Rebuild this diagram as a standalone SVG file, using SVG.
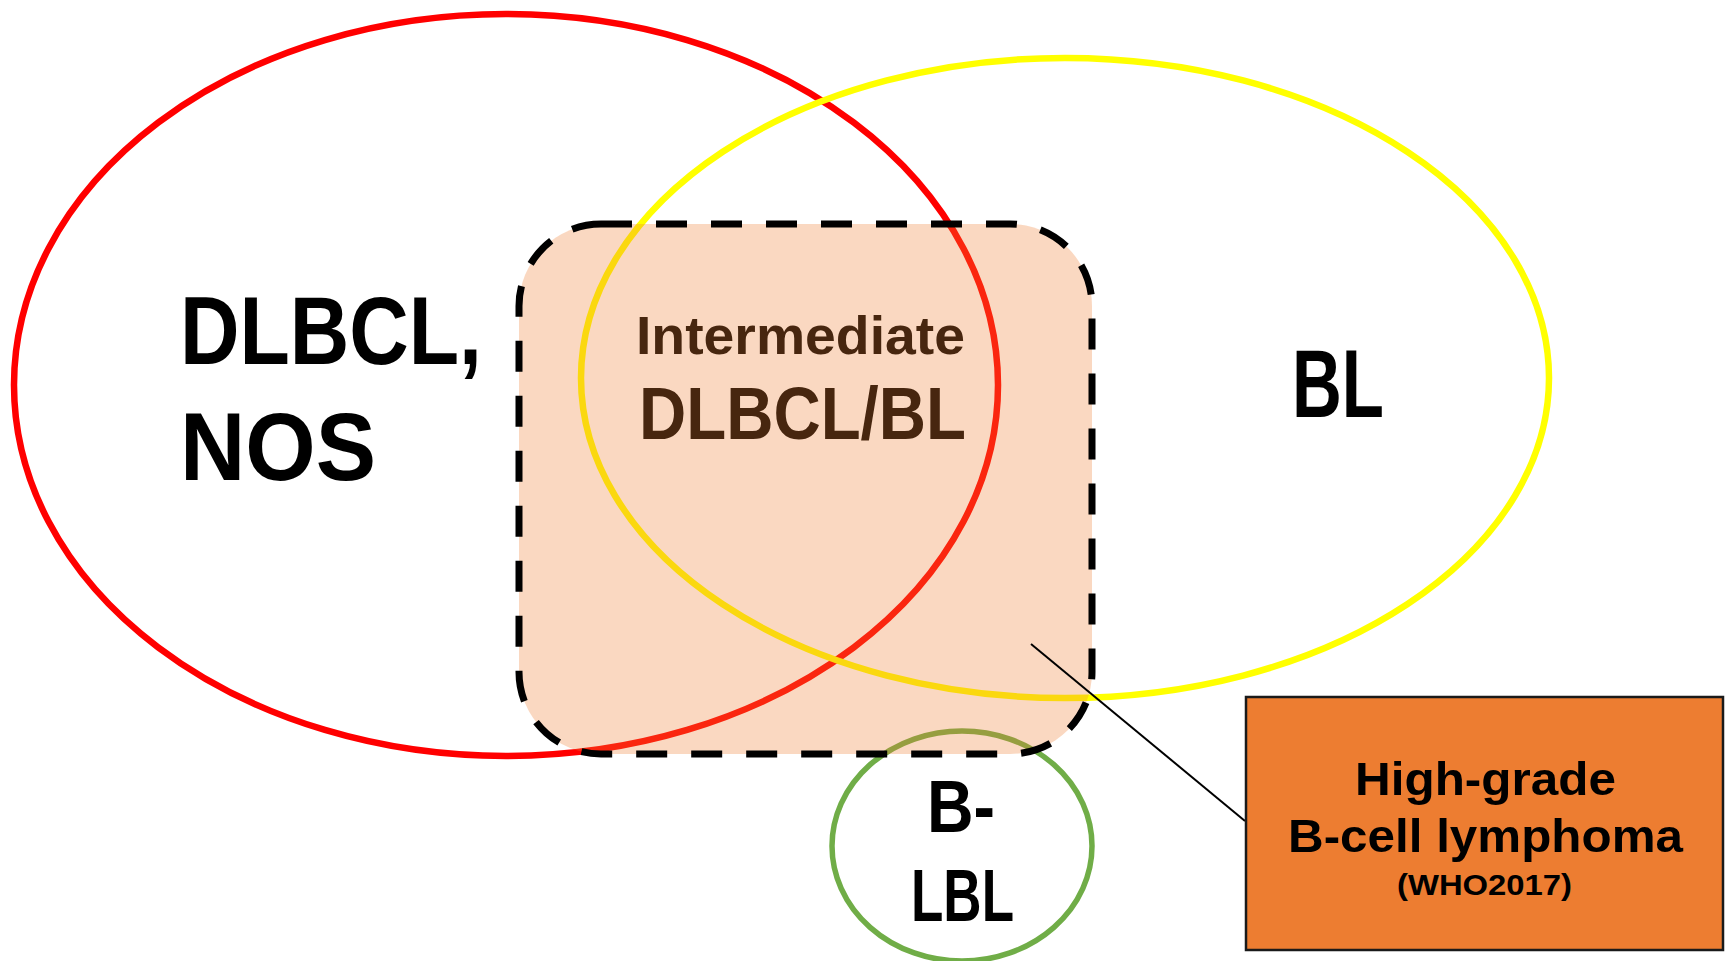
<svg xmlns="http://www.w3.org/2000/svg" width="1729" height="961" viewBox="0 0 1729 961">
<style>
.t{font-family:"Liberation Sans",Arial,sans-serif;font-weight:bold;fill:#000}
.br{fill:#47260F}
.ell{fill:none;stroke-width:6.5}
</style>
<rect width="1729" height="961" fill="#fff"/>
<g id="dlbcl-nos">
<ellipse class="ell" cx="506" cy="385" rx="492" ry="371" stroke="#FF0000"/>
</g>
<g id="bl">
<ellipse class="ell" cx="1065" cy="378" rx="484" ry="320" stroke="#FFFF00"/>
</g>
<g id="b-lbl">
<ellipse cx="962" cy="846" rx="130" ry="115" fill="none" stroke="#70AD47" stroke-width="5.5"/>
</g>
<g id="intermediate">
<rect x="519" y="224" width="573" height="530" rx="82" fill="#ED7D31" fill-opacity="0.3"/>
<rect x="519" y="224" width="573" height="530" rx="82" fill="none" stroke="#000" stroke-width="7" stroke-dasharray="31 24"/>
<text class="t br" x="636" y="354" font-size="54" textLength="329" lengthAdjust="spacingAndGlyphs">Intermediate</text>
<text class="t br" x="639" y="439" font-size="75" textLength="327" lengthAdjust="spacingAndGlyphs">DLBCL/BL</text>
</g>
<g id="labels">
<text class="t" x="180" y="364" font-size="96" textLength="302" lengthAdjust="spacingAndGlyphs">DLBCL,</text>
<text class="t" x="180" y="480" font-size="96" textLength="196" lengthAdjust="spacingAndGlyphs">NOS</text>
<text class="t" x="1292" y="417" font-size="96" textLength="92" lengthAdjust="spacingAndGlyphs">BL</text>
<text class="t" x="927" y="832" font-size="74" textLength="68" lengthAdjust="spacingAndGlyphs">B-</text>
<text class="t" x="911" y="921" font-size="74" textLength="103" lengthAdjust="spacingAndGlyphs">LBL</text>
</g>
<g id="connectors">
<line x1="1031" y1="644" x2="1245" y2="821" stroke="#000" stroke-width="2"/>
</g>
<g id="hgbl">
<rect x="1246" y="697" width="477" height="253" fill="#ED7D31" stroke="#1a1a1a" stroke-width="2.5"/>
<text class="t" x="1355" y="795" font-size="47" textLength="261" lengthAdjust="spacingAndGlyphs">High-grade</text>
<text class="t" x="1288" y="852" font-size="47" textLength="395" lengthAdjust="spacingAndGlyphs">B-cell lymphoma</text>
<text class="t" x="1397" y="895" font-size="29" textLength="175" lengthAdjust="spacingAndGlyphs">(WHO2017)</text>
</g>
</svg>
